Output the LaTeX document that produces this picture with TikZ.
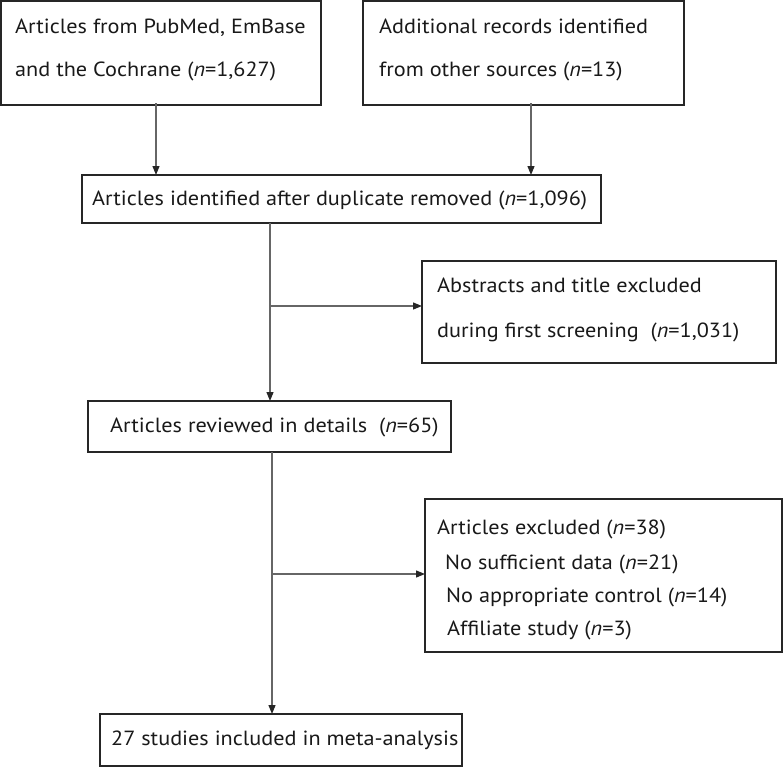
\documentclass[tikz,border=0pt]{standalone}
\usepackage{fontspec}
\setmainfont{PT Sans}[FakeStretch=1.085]
\usetikzlibrary{arrows.meta}
\begin{document}
\begin{tikzpicture}[x=1pt,y=-1pt,
  boxstyle/.style={draw=black!85,line width=1.6pt,inner sep=0pt,outer sep=0pt},
  txt/.style={anchor=base west,inner sep=0pt,font=\fontsize{20.5}{24}\selectfont,text=black!90},
  arr/.style={draw=black!60,line width=1.2pt,-{Triangle[length=9pt,width=7pt,color=black!85]}},
  ln/.style={draw=black!60,line width=1.2pt}]
\useasboundingbox (0,0) rectangle (784,768);
% boxes
\node[boxstyle,minimum width=320pt,minimum height=104pt] (b1) at (161,53) {};
\node[boxstyle,minimum width=321pt,minimum height=104pt] (b2) at (523.5,53) {};
\node[boxstyle,minimum width=519pt,minimum height=48pt] (b3) at (341.5,199) {};
\node[boxstyle,minimum width=354pt,minimum height=102pt] (b4) at (599,312) {};
\node[boxstyle,minimum width=363pt,minimum height=51pt] (b5) at (269.5,426.5) {};
\node[boxstyle,minimum width=357pt,minimum height=153pt] (b6) at (603.5,575.5) {};
\node[boxstyle,minimum width=362pt,minimum height=52pt] (b7) at (281,740) {};
% texts
\node[txt] (t1a) at (15,34) {Articles from PubMed, EmBase};
\node[txt] (t1b) at (15,77) {and the Cochrane (\textit{n}=1,627)};
\node[txt] (t2a) at (379,34) {Additional records identified};
\node[txt] (t2b) at (379,77) {from other sources (\textit{n}=13)};
\node[txt] (t3) at (92,205) {Articles identified after duplicate removed (\textit{n}=1,096)};
\node[txt] (t4a) at (437,292) {Abstracts and title excluded};
\node[txt] (t4b) at (437,337) {during first screening\ \ (\textit{n}=1,031)};
\node[txt] (t5) at (110,432) {Articles reviewed in details\ \ (\textit{n}=65)};
\node[txt] (t6a) at (437,534) {Articles excluded\ (\textit{n}=38)};
\node[txt] (t6b) at (445,569) {No sufficient data (\textit{n}=21)};
\node[txt] (t6c) at (446,602) {No appropriate control (\textit{n}=14)};
\node[txt] (t6d) at (447,635) {Affiliate study\ (\textit{n}=3)};
\node[txt] (t7) at (111,745) {27 studies included in meta-analysis};
% connector coordinates
\coordinate (x1) at (156,0);
\coordinate (x2) at (531,0);
\coordinate (x3) at (270,0);
\coordinate (x4) at (272,0);
\coordinate (j1) at (270,306);
\coordinate (j2) at (272,574);
% connectors
\draw[arr] ([yshift=2pt]b1.south -| x1) -- (b3.north -| x1);
\draw[arr] ([yshift=2pt]b2.south -| x2) -- (b3.north -| x2);
\draw[arr] (b3.south -| x3) -- (b5.north -| x3);
\draw[arr] (j1) -- (b4.west |- j1);
\draw[arr] (b5.south -| x4) -- (b7.north -| x4);
\draw[arr] (j2) -- (b6.west |- j2);
\end{tikzpicture}
\end{document}
